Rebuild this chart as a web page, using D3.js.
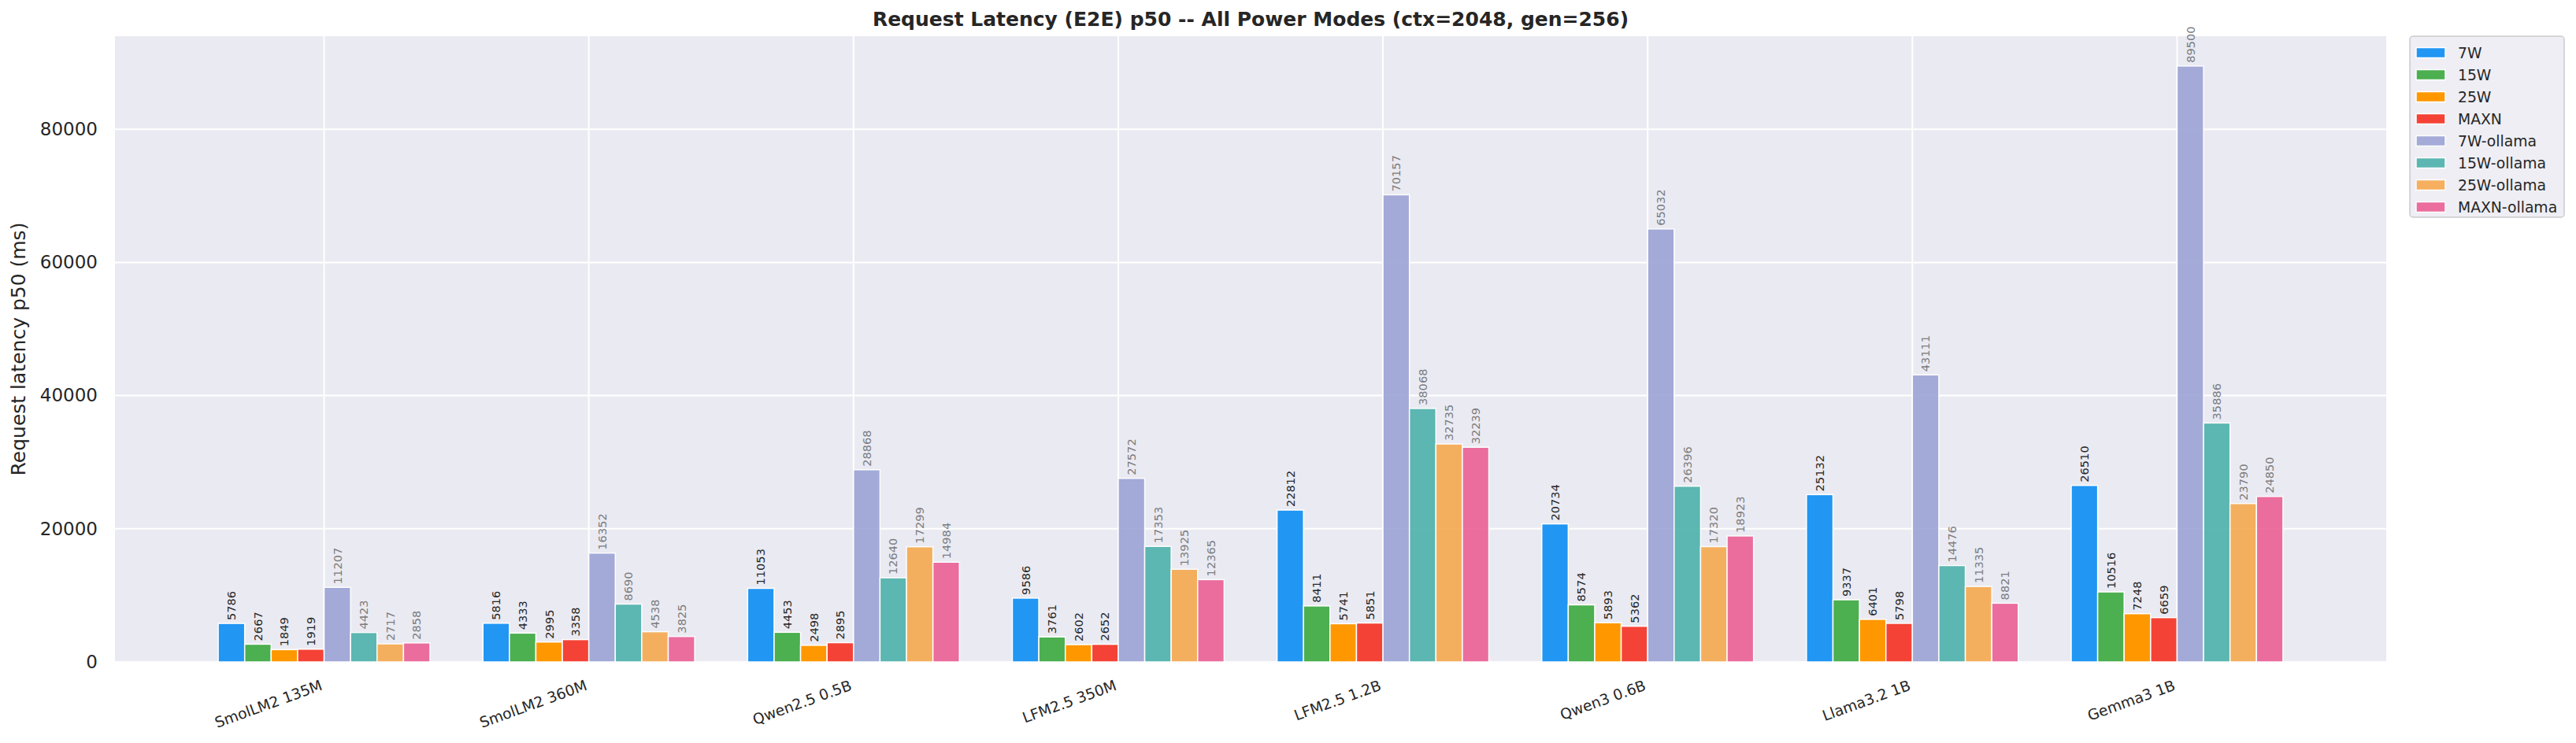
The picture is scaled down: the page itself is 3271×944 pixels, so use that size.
<!DOCTYPE html>
<html>
<head>
<meta charset="utf-8">
<script src="https://cdn.jsdelivr.net/npm/d3@7"></script>
<style>
  body { margin: 0; background: #fff; }
  svg text { font-family: "DejaVu Sans", sans-serif; }
</style>
</head>
<body>
<div id="chart"></div>
<script>
const models = ["SmolLM2 135M", "SmolLM2 360M", "Qwen2.5 0.5B", "LFM2.5 350M",
  "LFM2.5 1.2B", "Qwen3 0.6B", "Llama3.2 1B", "Gemma3 1B"];

const modes = ["7W", "15W", "25W", "MAXN", "7W-ollama", "15W-ollama", "25W-ollama", "MAXN-ollama"];

const p50_7W = [5786, 5816, 11053, 9586, 22812, 20734, 25132, 26510];
const p50_15W = [2667, 4333, 4453, 3761, 8411, 8574, 9337, 10516];
const p50_25W = [1849, 2995, 2498, 2602, 5741, 5893, 6401, 7248];
const p50_MAXN = [1919, 3358, 2895, 2652, 5851, 5362, 5798, 6659];
const p50_7W_ollama = [11207, 16352, 28868, 27572, 70157, 65032, 43111, 89500];
const p50_15W_ollama = [4423, 8690, 12640, 17353, 38068, 26396, 14476, 35886];
const p50_25W_ollama = [2717, 4538, 17299, 13925, 32735, 17320, 11335, 23790];
const p50_MAXN_ollama = [2858, 3825, 14984, 12365, 32239, 18923, 8821, 24850];

const yTicks = [0, 20000, 40000, 60000, 80000];

const colors = ["#2196F3", "#4CAF50", "#FF9800", "#F44336", "#9CA4D6", "#4DB1AA", "#F6A94F", "#EA6094"];

const series = [p50_7W, p50_15W, p50_25W, p50_MAXN, p50_7W_ollama, p50_15W_ollama, p50_25W_ollama, p50_MAXN_ollama];

// one row per bar
const rows = [];
models.forEach((m, i) => {
  modes.forEach((s, j) => {
    rows.push({model: m, mode: s, value: series[j][i], ollama: s.endsWith("ollama"), color: colors[j]});
  });
});

const W = 3271, H = 944;
const margin = {top: 46, right: 241, bottom: 103, left: 146};
const width = W - margin.left - margin.right;
const height = H - margin.top - margin.bottom;

const svg = d3.select("#chart").append("svg").attr("width", W).attr("height", H);
const g = svg.append("g").attr("transform", "translate(" + margin.left + "," + margin.top + ")");

g.append("rect").attr("width", width).attr("height", height).attr("fill", "#EAEAF2");

const x = d3.scaleBand().domain(models).range([0, width]).paddingInner(0.2).paddingOuter(0.39);
const x1 = d3.scaleBand().domain(modes).range([0, x.bandwidth()]);
const maxVal = d3.max(series, s => d3.max(s));
const y = d3.scaleLinear().domain([0, maxVal * 1.05]).range([height, 0]);

// grid
g.selectAll(".hgrid").data(yTicks).enter().append("line")
  .attr("x1", 0).attr("x2", width)
  .attr("y1", d => y(d)).attr("y2", d => y(d))
  .attr("stroke", "#fff").attr("stroke-width", 2);
g.selectAll(".vgrid").data(models).enter().append("line")
  .attr("x1", d => x(d) + x.bandwidth() / 2).attr("x2", d => x(d) + x.bandwidth() / 2)
  .attr("y1", 0).attr("y2", height)
  .attr("stroke", "#fff").attr("stroke-width", 2);

// bars
g.selectAll(".bar").data(rows).enter().append("rect")
  .attr("x", d => x(d.model) + x1(d.mode))
  .attr("y", d => y(d.value))
  .attr("width", x1.bandwidth())
  .attr("height", d => height - y(d.value))
  .attr("fill", d => d.color)
  .attr("opacity", d => d.ollama ? 0.9 : 1)
  .attr("stroke", "#fff").attr("stroke-width", 1.5);

// value labels
g.selectAll(".vlab").data(rows).enter().append("text")
  .attr("transform", d => "translate(" + (x(d.model) + x1(d.mode) + x1.bandwidth() / 2) + "," + (y(d.value) - 4) + ") rotate(-90)")
  .attr("dy", "0.36em")
  .attr("font-size", "14.6px")
  .attr("fill", d => d.ollama ? "#7c7c7e" : "#262626")
  .text(d => d.value);

// y axis
const yAxis = g.append("g").call(d3.axisLeft(y).tickValues(yTicks).tickSize(0).tickPadding(22).tickFormat(d3.format("d")));
yAxis.select(".domain").remove();
yAxis.selectAll("text").attr("font-size", "23px").attr("fill", "#262626").attr("font-family", "DejaVu Sans");

// x axis labels
g.selectAll(".xlab").data(models).enter().append("text")
  .attr("transform", d => "translate(" + (x(d) + x.bandwidth() / 2 - 1) + "," + (height + 35) + ") rotate(-20)")
  .attr("text-anchor", "end")
  .attr("font-size", "18.75px")
  .attr("fill", "#262626")
  .text(d => d);

// y label
svg.append("text")
  .attr("transform", "translate(32," + (margin.top + height / 2) + ") rotate(-90)")
  .attr("text-anchor", "middle")
  .attr("font-size", "25px")
  .attr("fill", "#262626")
  .text("Request latency p50 (ms)");

// title
svg.append("text")
  .attr("x", margin.left + width / 2).attr("y", 33)
  .attr("text-anchor", "middle")
  .attr("font-size", "25px").attr("font-weight", "bold")
  .attr("fill", "#262626")
  .text("Request Latency (E2E) p50 -- All Power Modes (ctx=2048, gen=256)");

// legend
const lg = svg.append("g").attr("transform", "translate(3060,46)");
lg.append("rect").attr("width", 196).attr("height", 230).attr("rx", 4)
  .attr("fill", "#EEEEF4").attr("stroke", "#CCCCCC").attr("stroke-width", 1.5);
const item = lg.selectAll(".li").data(modes).enter().append("g")
  .attr("transform", (d, i) => "translate(0," + (14.5 + i * 28) + ")");
item.append("rect").attr("x", 8).attr("y", 0).attr("width", 37).attr("height", 13)
  .attr("fill", (d, i) => colors[i]).attr("stroke", "#fff").attr("stroke-width", 1.5)
  .attr("opacity", d => d.endsWith("ollama") ? 0.9 : 1);
item.append("text").attr("x", 61).attr("y", 6.5).attr("dy", "0.36em")
  .attr("font-size", "18.75px").attr("fill", "#262626").text(d => d);
</script>
</body>
</html>
